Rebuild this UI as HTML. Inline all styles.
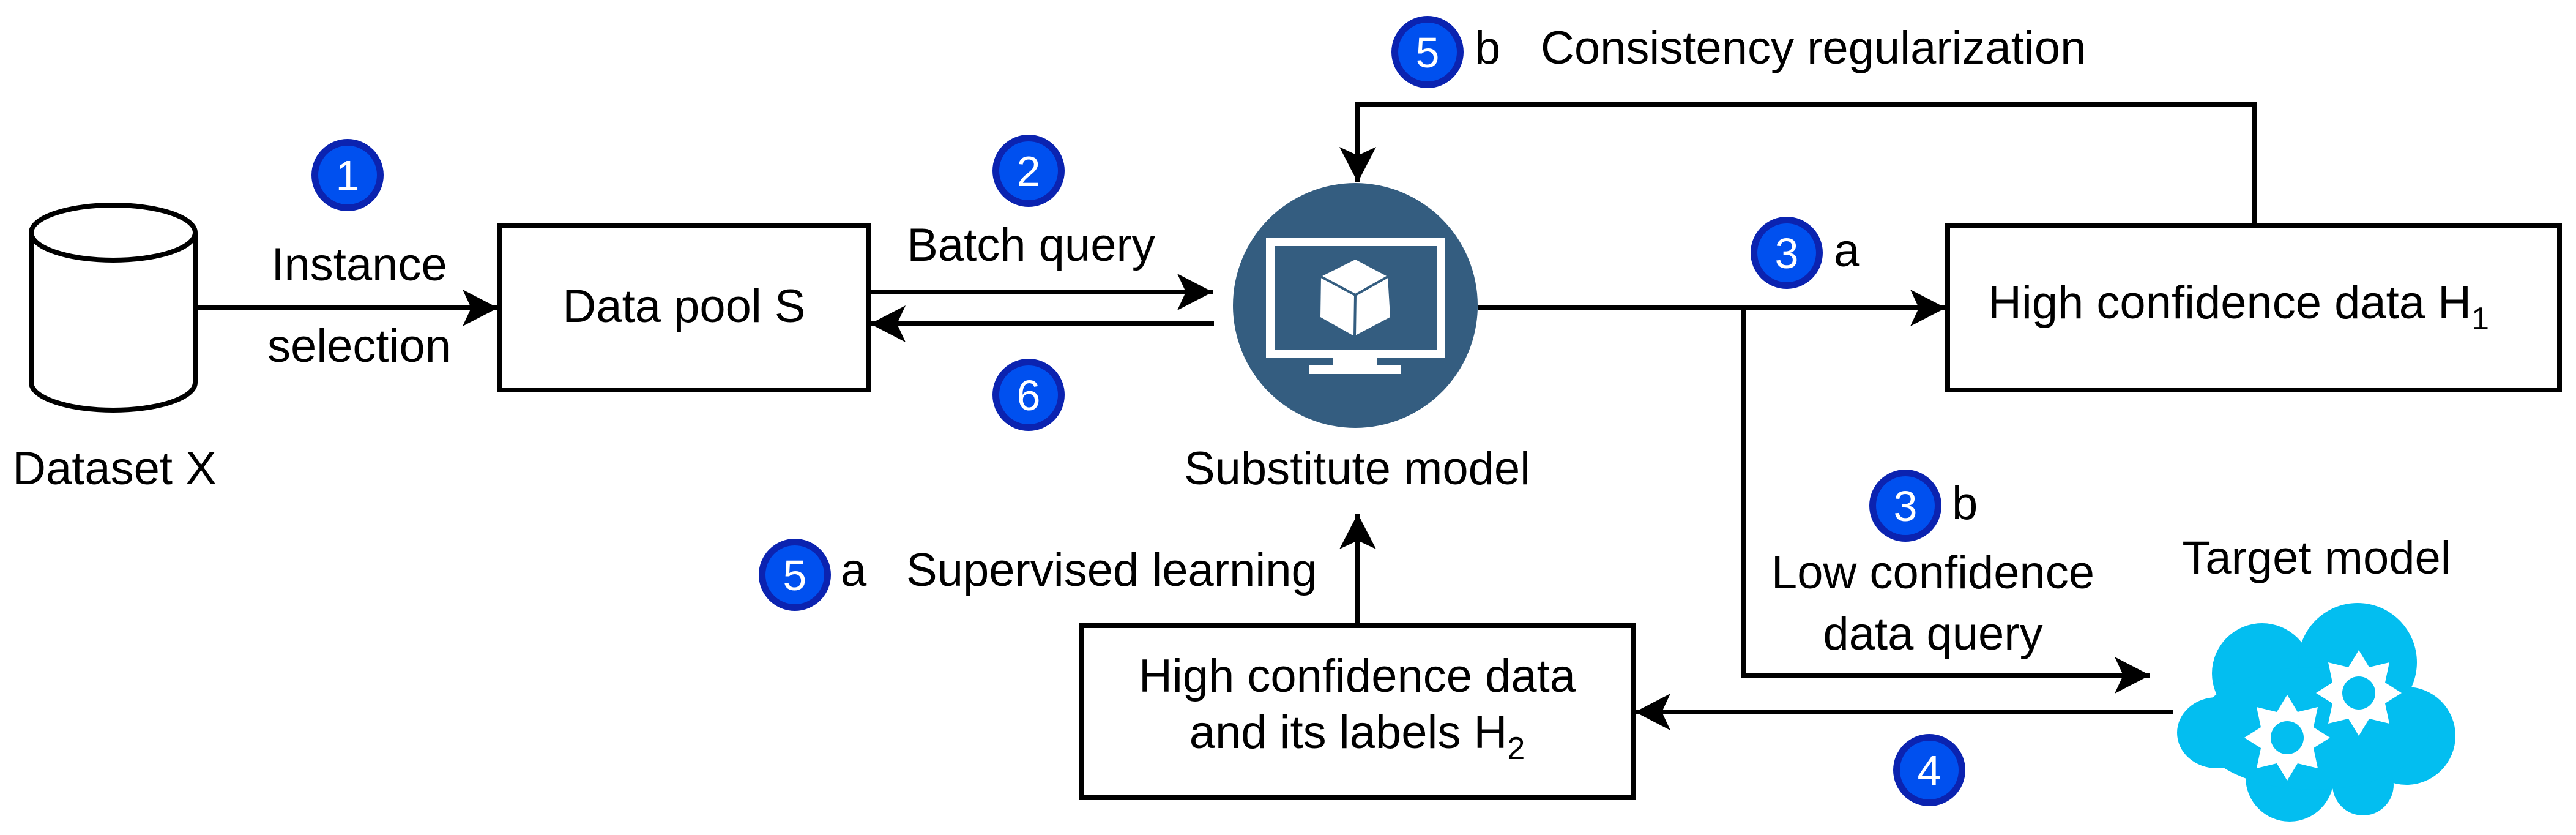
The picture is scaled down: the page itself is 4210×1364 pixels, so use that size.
<!DOCTYPE html>
<html><head><meta charset="utf-8"><style>html,body{margin:0;padding:0;background:#fff}svg{display:block}</style></head>
<body>
<svg width="4210" height="1364" viewBox="0 0 4210 1364" xmlns="http://www.w3.org/2000/svg" font-family="Liberation Sans, Arial, sans-serif">
<defs>
<marker id="ah" markerWidth="60" markerHeight="64" refX="58" refY="32" orient="auto" markerUnits="userSpaceOnUse">
<path d="M0,2 L58,32 L0,62 L14,32 Z" fill="#000"/>
</marker>
<g id="badge"><circle r="59" fill="#0b23b0"/><circle r="48" fill="#0050ef"/></g>
</defs>
<rect width="4210" height="1364" fill="#fff"/>
<g fill="none" stroke="#000" stroke-width="8">
<!-- cylinder -->
<path d="M51,380 L51,625 A134,45 0 0 0 319,625 L319,380" fill="#fff"/>
<ellipse cx="185" cy="380" rx="134" ry="45" fill="#fff"/>
<!-- boxes -->
<rect x="817" y="369" width="602" height="268" fill="#fff"/>
<rect x="3183" y="369" width="1000" height="268" fill="#fff"/>
<rect x="1768" y="1022" width="901" height="281" fill="#fff"/>
<!-- connectors -->
<path d="M319,503 L814,503" marker-end="url(#ah)"/>
<path d="M1419,477 L1982,477" marker-end="url(#ah)"/>
<path d="M1984,529 L1422,529" marker-end="url(#ah)"/>
<path d="M2416,503 L3180,503" marker-end="url(#ah)"/>
<path d="M2850,503 L2850,1103 L3514,1103" marker-end="url(#ah)"/>
<path d="M3552,1163 L2672,1163" marker-end="url(#ah)"/>
<path d="M2219,1022 L2219,839" marker-end="url(#ah)"/>
<path d="M3685,369 L3685,170 L2219,170 L2219,298" marker-end="url(#ah)"/>
</g>
<!-- substitute model -->
<circle cx="2215" cy="499" r="200" fill="#345d80"/>
<rect x="2069" y="388" width="293" height="197" fill="#fff"/>
<rect x="2083" y="402" width="265" height="169" fill="#345d80"/>
<rect x="2178" y="584" width="73" height="14" fill="#fff"/>
<rect x="2140" y="597" width="150" height="14" fill="#fff"/>
<path d="M2215,424 L2268,452 L2272,518 L2213,549 L2158,518 L2159,452 Z" fill="#fff"/>
<path d="M2159,452 L2215,482 L2268,452 M2215,482 L2214,549" stroke="#345d80" stroke-width="4" fill="none"/>
<!-- cloud -->
<g fill="#03bef0">
<ellipse cx="3623" cy="1197" rx="65" ry="58"/>
<circle cx="3697" cy="1100" r="82"/>
<circle cx="3853" cy="1082" r="97"/>
<circle cx="3933" cy="1202" r="80"/>
<circle cx="3742" cy="1270" r="72"/>
<circle cx="3862" cy="1282" r="50"/>
<ellipse cx="3780" cy="1190" rx="190" ry="100"/>
</g>
<g fill="#fff">
<polygon points="3738,1135 3755,1163 3788,1155 3781,1188 3808,1205 3781,1222 3788,1255 3755,1247 3738,1275 3721,1247 3688,1255 3695,1222 3668,1205 3695,1188 3688,1155 3721,1163"/>
<polygon points="3855,1062 3872,1090 3905,1082 3898,1115 3925,1132 3898,1149 3905,1182 3872,1174 3855,1202 3838,1174 3805,1182 3812,1149 3785,1132 3812,1115 3805,1082 3838,1090"/>
</g>
<circle cx="3738" cy="1205" r="27" fill="#03bef0"/>
<circle cx="3855" cy="1132" r="27" fill="#03bef0"/>
<!-- badges -->
<g font-size="70" fill="#fff" text-anchor="middle">
<use href="#badge" x="568" y="286"/><text x="568" y="311">1</text>
<use href="#badge" x="1681" y="279"/><text x="1681" y="304">2</text>
<use href="#badge" x="1681" y="645"/><text x="1681" y="670">6</text>
<use href="#badge" x="1299" y="939"/><text x="1299" y="964">5</text>
<use href="#badge" x="2333" y="85"/><text x="2333" y="110">5</text>
<use href="#badge" x="2920" y="413"/><text x="2920" y="438">3</text>
<use href="#badge" x="3114" y="826"/><text x="3114" y="851">3</text>
<use href="#badge" x="3153" y="1258"/><text x="3153" y="1283">4</text>
</g>
<!-- labels -->
<g font-size="76" fill="#000">
<text x="587" y="458" text-anchor="middle">Instance</text>
<text x="587" y="591" text-anchor="middle">selection</text>
<text x="187" y="791" text-anchor="middle">Dataset X</text>
<text x="1118" y="526" text-anchor="middle">Data pool S</text>
<text x="1685" y="426" text-anchor="middle">Batch query</text>
<text x="2218" y="791" text-anchor="middle">Substitute model</text>
<text x="1374" y="957">a</text>
<text x="1481" y="957">Supervised learning</text>
<text x="2410" y="104">b</text>
<text x="2518" y="104">Consistency regularization</text>
<text x="2997" y="435">a</text>
<text x="3249" y="520">High confidence data H<tspan font-size="52" dy="18">1</tspan></text>
<text x="3190" y="848">b</text>
<text x="3159" y="961" text-anchor="middle">Low confidence</text>
<text x="3159" y="1061" text-anchor="middle">data query</text>
<text x="3786" y="937" text-anchor="middle">Target model</text>
<text x="2218" y="1130" text-anchor="middle">High confidence data</text>
<text x="2218" y="1222" text-anchor="middle">and its labels H<tspan font-size="52" dy="18">2</tspan></text>
</g>
</svg>
</body></html>
